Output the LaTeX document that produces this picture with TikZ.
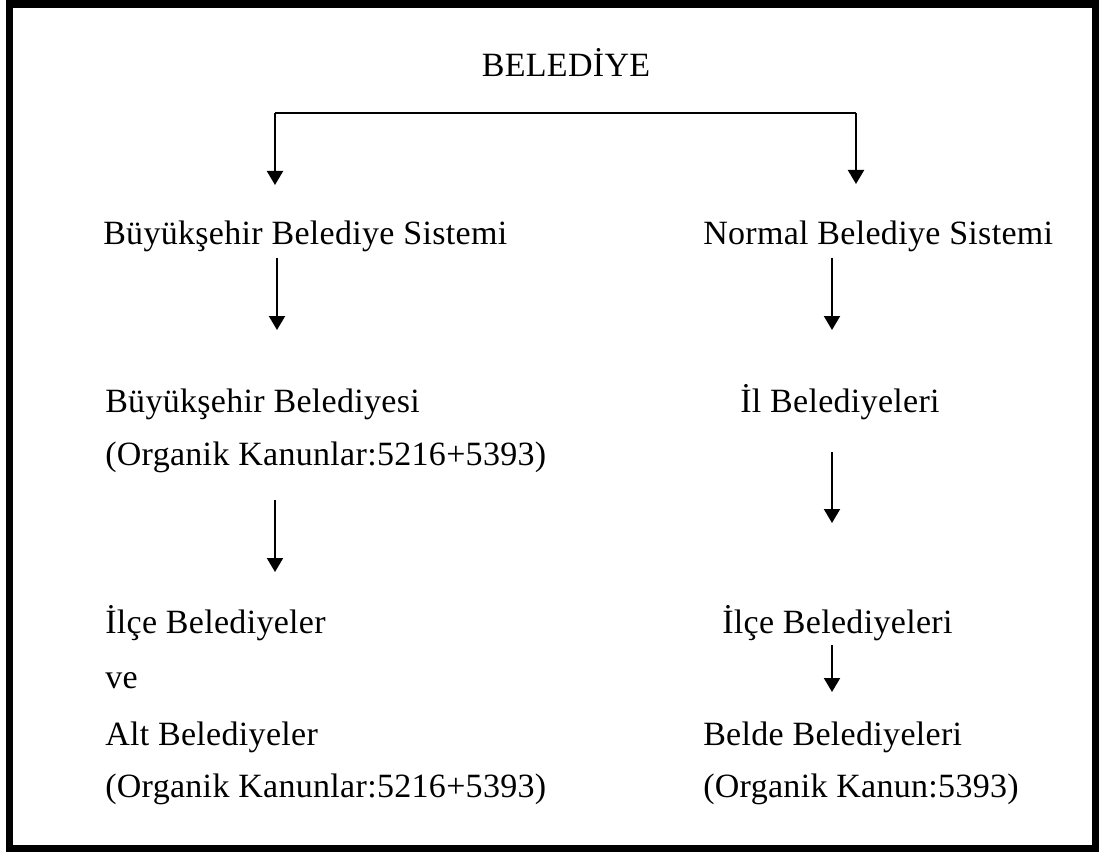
\documentclass[tikz,border=0pt]{standalone}
\usepackage{fontspec}
\setmainfont[LetterSpace=0.9]{Liberation Serif}
\usetikzlibrary{arrows.meta}
\tikzset{
  lbl/.style={inner sep=0pt, anchor=base west, font=\fontsize{25.5}{30}\selectfont},
  arr/.style={line width=1.5pt, -{Triangle[width=12pt,length=10.5pt]}},
  frame/.style={line width=5.6pt}
}
\begin{document}
\begin{tikzpicture}[x=0.75pt,y=-0.75pt]
\useasboundingbox (0,0) rectangle (1099,852);
\draw[frame] (9.5,3.8) rectangle (1095.5,848.5);

% texts
\node[lbl, anchor=base] (bel) at (566,77) {BELEDİYE};
\node[lbl] (bbs) at (103,245) {Büyükşehir Belediye Sistemi};
\node[lbl] (nbs) at (703,245) {Normal Belediye Sistemi};
\node[lbl] (bb) at (105,412) {Büyükşehir Belediyesi};
\node[lbl] (bbk) at (105,465) {(Organik Kanunlar:5216+5393)};
\node[lbl] (ib) at (740,412) {İl Belediyeleri};
\node[lbl] (icb) at (105,633) {İlçe Belediyeler};
\node[lbl] (ve) at (105,688) {ve};
\node[lbl] (alt) at (105,745) {Alt Belediyeler};
\node[lbl] (altk) at (105,797) {(Organik Kanunlar:5216+5393)};
\node[lbl] (icr) at (722,633) {İlçe Belediyeleri};
\node[lbl] (bld) at (703,745) {Belde Belediyeleri};
\node[lbl] (bldk) at (703,797) {(Organik Kanun:5393)};

% connector points
\coordinate (tl) at (275,113);
\coordinate (tr) at (856,113);
\coordinate (a1) at (275,185);
\coordinate (a2) at (856,184);
\coordinate (b1s) at (277,258);
\coordinate (b1e) at (277,330);
\coordinate (b2s) at (832,258);
\coordinate (b2e) at (832,330);
\coordinate (c1s) at (275,500);
\coordinate (c1e) at (275,572);
\coordinate (c2s) at (832,452);
\coordinate (c2e) at (832,523);
\coordinate (d2s) at (832,645);
\coordinate (d2e) at (832,692);

\draw[line width=1.5pt] (tl) -- (tr);
\draw[arr] (tl) -- (a1);
\draw[arr] (tr) -- (a2);
\draw[arr] (b1s) -- (b1e);
\draw[arr] (b2s) -- (b2e);
\draw[arr] (c1s) -- (c1e);
\draw[arr] (c2s) -- (c2e);
\draw[arr] (d2s) -- (d2e);
\end{tikzpicture}
\end{document}
